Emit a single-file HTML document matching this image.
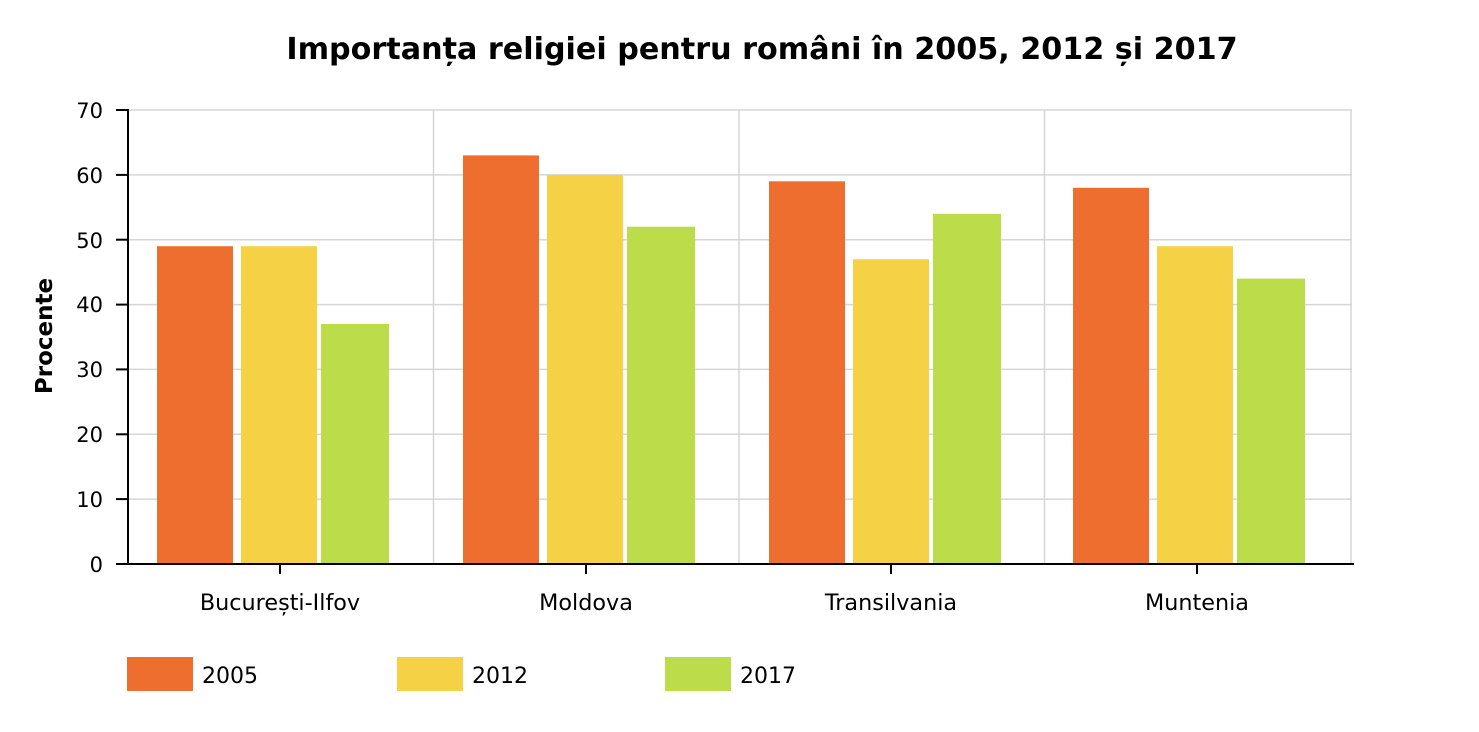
<!DOCTYPE html>
<html><head><meta charset="utf-8"><style>
html,body{margin:0;padding:0;background:#fff;}
svg{display:block;font-family:"DejaVu Sans","Liberation Sans",sans-serif;}
</style></head><body>
<svg width="1479" height="732" viewBox="0 0 1479 732">
<rect x="0" y="0" width="1479" height="732" fill="#fff"/>
<text x="762" y="59" text-anchor="middle" font-size="30.2" font-weight="bold" fill="#000">Importanța religiei pentru români în 2005, 2012 și 2017</text>
<g stroke="#d6d6d6" stroke-width="1.5">
<line x1="128" y1="110" x2="1352" y2="110"/>
<line x1="128" y1="174.9" x2="1352" y2="174.9"/>
<line x1="128" y1="239.7" x2="1352" y2="239.7"/>
<line x1="128" y1="304.6" x2="1352" y2="304.6"/>
<line x1="128" y1="369.4" x2="1352" y2="369.4"/>
<line x1="128" y1="434.3" x2="1352" y2="434.3"/>
<line x1="128" y1="499.1" x2="1352" y2="499.1"/>
<line x1="433.5" y1="110" x2="433.5" y2="564"/>
<line x1="739" y1="110" x2="739" y2="564"/>
<line x1="1044.5" y1="110" x2="1044.5" y2="564"/>
<line x1="1351" y1="110" x2="1351" y2="564"/>
</g>
<g>
<rect x="157" y="246.2" width="76" height="317.8" fill="#EE6E2F"/>
<rect x="241" y="246.2" width="76" height="317.8" fill="#F5D145"/>
<rect x="321" y="324" width="68" height="240" fill="#BCDC4A"/>
<rect x="463" y="155.4" width="76" height="408.6" fill="#EE6E2F"/>
<rect x="547" y="174.9" width="76" height="389.1" fill="#F5D145"/>
<rect x="627" y="226.7" width="68" height="337.3" fill="#BCDC4A"/>
<rect x="769" y="181.3" width="76" height="382.7" fill="#EE6E2F"/>
<rect x="853" y="259.2" width="76" height="304.8" fill="#F5D145"/>
<rect x="933" y="213.8" width="68" height="350.2" fill="#BCDC4A"/>
<rect x="1073" y="187.8" width="76" height="376.2" fill="#EE6E2F"/>
<rect x="1157" y="246.2" width="76" height="317.8" fill="#F5D145"/>
<rect x="1237" y="278.6" width="68" height="285.4" fill="#BCDC4A"/>
</g>
<g stroke="#000" stroke-width="2">
<line x1="128" y1="109" x2="128" y2="565"/>
<line x1="116" y1="564" x2="1354" y2="564"/>
<line x1="116" y1="110" x2="128" y2="110"/>
<line x1="116" y1="174.9" x2="128" y2="174.9"/>
<line x1="116" y1="239.7" x2="128" y2="239.7"/>
<line x1="116" y1="304.6" x2="128" y2="304.6"/>
<line x1="116" y1="369.4" x2="128" y2="369.4"/>
<line x1="116" y1="434.3" x2="128" y2="434.3"/>
<line x1="116" y1="499.1" x2="128" y2="499.1"/>
<line x1="280" y1="564" x2="280" y2="574"/>
<line x1="586" y1="564" x2="586" y2="574"/>
<line x1="891" y1="564" x2="891" y2="574"/>
<line x1="1197" y1="564" x2="1197" y2="574"/>
</g>
<g font-size="21" fill="#000" text-anchor="end">
<text x="103" y="118">70</text>
<text x="103" y="183">60</text>
<text x="103" y="248">50</text>
<text x="103" y="312">40</text>
<text x="103" y="377">30</text>
<text x="103" y="442">20</text>
<text x="103" y="507">10</text>
<text x="103" y="572">0</text>
</g>
<text transform="translate(52,336) rotate(-90)" text-anchor="middle" font-size="23" font-weight="bold">Procente</text>
<g font-size="22.3" fill="#000" text-anchor="middle">
<text x="280" y="610">București-Ilfov</text>
<text x="586" y="610">Moldova</text>
<text x="891" y="610">Transilvania</text>
<text x="1197" y="610">Muntenia</text>
</g>
<rect x="127" y="657" width="66" height="34" fill="#EE6E2F"/>
<rect x="397" y="657" width="66" height="34" fill="#F5D145"/>
<rect x="665" y="657" width="66" height="34" fill="#BCDC4A"/>
<g font-size="22" fill="#000">
<text x="202" y="683">2005</text>
<text x="472" y="683">2012</text>
<text x="740" y="683">2017</text>
</g>
</svg>
</body></html>
